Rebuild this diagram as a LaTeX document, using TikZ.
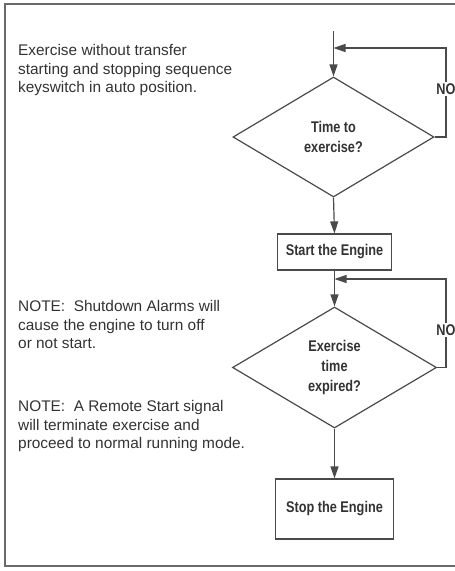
\documentclass[tikz,border=0pt]{standalone}
\usepackage{fontspec}
\setmainfont{Liberation Sans}
\newfontfamily\lblfont[FakeStretch=0.82]{Liberation Sans}
\usetikzlibrary{shapes.geometric,arrows.meta}
\definecolor{ink}{HTML}{333333}
\definecolor{linec}{HTML}{4A4A4A}
\definecolor{framec}{HTML}{6A6A6A}
\tikzset{
  conn/.style={draw=linec, line width=1.2pt},
  arr/.style={conn, -{Triangle[length=12pt,width=8pt]}},
  note/.style={anchor=north west, align=left, inner sep=0pt, text=ink,
    font=\fontsize{15.4}{18.5}\selectfont},
  decision/.style={diamond, draw=linec, line width=1.2pt, inner sep=0pt,
    align=center, text=ink, font=\lblfont\bfseries\fontsize{15.5}{20}\selectfont},
  process/.style={rectangle, draw=linec, line width=1.2pt, inner sep=0pt,
    align=center, text=ink, font=\lblfont\bfseries\fontsize{15.5}{20}\selectfont},
  nolabel/.style={inner sep=1pt, text=ink, font=\lblfont\bfseries\fontsize{15.5}{17}\selectfont}
}
\begin{document}
\begin{tikzpicture}[x=1pt,y=-1pt]
\useasboundingbox (0,0) rectangle (455,571);
\clip (0,0) rectangle (455,571);
\fill[white] (0,0) rectangle (455,571);
% frame
\draw[framec, line width=1.6pt] (5,4) rectangle (480,566);

% left texts
\node[note] (t1) at (18,44.5) {Exercise without transfer\\starting and stopping sequence\\keyswitch in auto position.};
\node[note] (t2) at (18,300.5) {NOTE:\ \ Shutdown Alarms will\\cause the engine to turn off\\or not start.};
\node[note] (t3) at (18,400.5) {NOTE:\ \ A Remote Start signal\\will terminate exercise and\\proceed to normal running mode.};

% flowchart nodes
\node[decision, minimum width=201pt, minimum height=120pt] (d1) at (333.5,137) {Time to\\exercise?};
\node[process, minimum width=114pt, minimum height=36pt] (start) at (334.5,252) {Start the Engine};
\node[decision, minimum width=204pt, minimum height=121pt] (d2) at (334.5,367.5) {Exercise\\time\\expired?};
\node[process, minimum width=118pt, minimum height=60pt] (stop) at (334.5,509) {Stop the Engine};

\node[nolabel] (no1) at (446,89) {NO};
\node[nolabel] (no2) at (446,330) {NO};

\coordinate (entry) at (333.5,31);
\coordinate (j1) at (333.5,48);
\coordinate (j2) at (334.5,279);

% connectors
\draw[arr] (entry) -- (d1.north);
\draw[conn] (d1.east) -| (no1.south);
\draw[arr] (no1.north) |- (j1);
\draw[arr] (d1.south) -- (start.north);
\draw[arr] (start.south) -- (d2.north);
\draw[conn] (d2.east) -| (no2.south);
\draw[arr] (no2.north) |- (j2);
\draw[arr] (d2.south) -- (stop.north);
\end{tikzpicture}
\end{document}
